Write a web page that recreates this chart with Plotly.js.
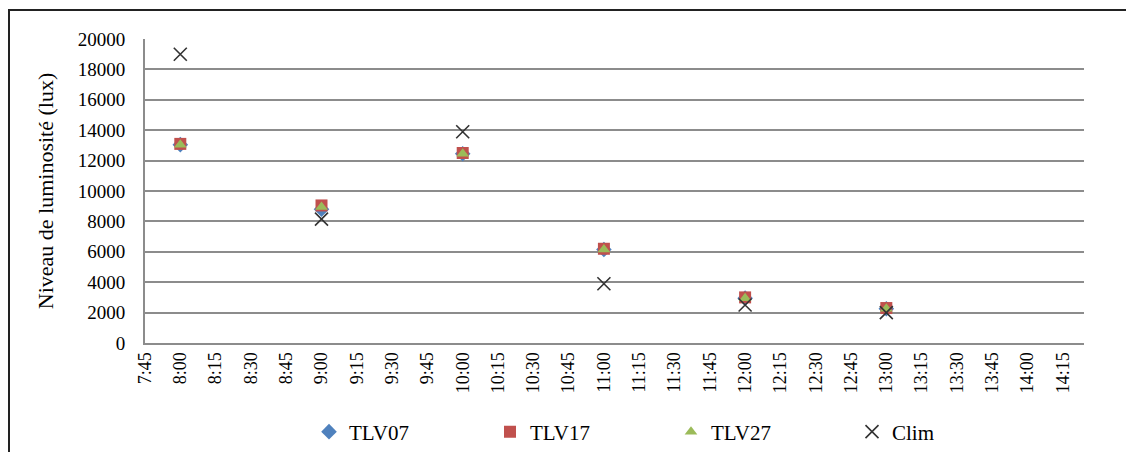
<!DOCTYPE html>
<html>
<head>
<meta charset="utf-8">
<script src="https://cdn.plot.ly/plotly-3.0.1.min.js"></script>
<style>
  html, body { margin: 0; padding: 0; background: #fff; }
  #chart { width: 1126px; height: 452px; }
</style>
</head>
<body>
<div id="chart"></div>
<script>
// Data
const times = ['2020-01-01 08:00', '2020-01-01 09:00', '2020-01-01 10:00', '2020-01-01 11:00', '2020-01-01 12:00', '2020-01-01 13:00'];
const tlv07 = [13050, 8800, 12450, 6150, 2950, 2250];
const tlv17 = [13100, 9050, 12500, 6200, 3000, 2300];
const tlv27 = [13050, 8950, 12450, 6150, 2950, 2250];
const clim  = [19000, 8150, 13900, 3900, 2500, 2000];
const seriesNames = ['TLV07', 'TLV17', 'TLV27', 'Clim'];
const xRange = ['2020-01-01 07:45', '2020-01-01 14:24'];
const yTitle = 'Niveau de luminosité (lux)';

const serif = '"Liberation Serif", "Times New Roman", serif';

const traces = [
  { x: times, y: tlv07, name: seriesNames[0], type: 'scatter', mode: 'markers',
    marker: { symbol: 'diamond', size: 12, color: '#4F81BD' } },
  { x: times, y: tlv17, name: seriesNames[1], type: 'scatter', mode: 'markers',
    marker: { symbol: 'square', size: 12, color: '#C0504D' } },
  { x: times, y: tlv27, name: seriesNames[2], type: 'scatter', mode: 'markers',
    marker: { symbol: 'triangle-up', size: 11, color: '#9BBB59' } },
  { x: times, y: clim, name: seriesNames[3], type: 'scatter', mode: 'markers',
    marker: { symbol: 'x-thin-open', size: 13, color: '#333', line: { width: 1.6, color: '#333' } } }
];

const L = 145, R = 1084, T = 39, B = 343, W = 1126, H = 452;
const pw = R - L, ph = B - T;
const px = v => (v - L) / pw;
const py = v => (B - v) / ph;

const layout = {
  width: W, height: H,
  margin: { l: L, r: W - R, t: T, b: H - B, pad: 0 },
  paper_bgcolor: '#fff', plot_bgcolor: '#fff',
  font: { family: serif, size: 18, color: '#000' },
  showlegend: true,
  legend: {
    orientation: 'h', xref: 'container', yref: 'container',
    x: 309 / W, xanchor: 'left', y: 1 - 432 / H, yanchor: 'middle',
    font: { family: serif, size: 21, color: '#000' },
    entrywidth: 136, entrywidthmode: 'pixels', itemwidth: 30,
    bgcolor: 'rgba(0,0,0,0)'
  },
  xaxis: {
    type: 'date', range: xRange, tick0: '2020-01-01 07:45', dtick: 15 * 60 * 1000,
    tickformat: '%-H:%M', tickangle: -90, showgrid: false,
    showline: true, linecolor: '#8c8c8c', linewidth: 2,
    ticks: '', tickfont: { family: serif, size: 18, color: '#000' }, zeroline: false
  },
  yaxis: {
    range: [0, 20000], dtick: 2000, tick0: 0, showgrid: true, gridcolor: '#8c8c8c', gridwidth: 2,
    showline: true, linecolor: '#8c8c8c', linewidth: 2, zeroline: false, ticks: '',
    tickformat: 'd', separatethousands: false,
    tickfont: { family: serif, size: 19, color: '#000' }, ticklabelstandoff: 14,
    title: { text: yTitle, font: { family: serif, size: 22, color: '#000' }, standoff: 18 }
  },
  shapes: [
    { type: 'rect', xref: 'paper', yref: 'paper',
      x0: px(9), x1: px(1140), y0: py(470), y1: py(10),
      line: { color: '#222', width: 2 }, fillcolor: 'rgba(0,0,0,0)', layer: 'above' }
  ]
};

Plotly.newPlot('chart', traces, layout, { displayModeBar: false, staticPlot: true });
</script>
</body>
</html>
